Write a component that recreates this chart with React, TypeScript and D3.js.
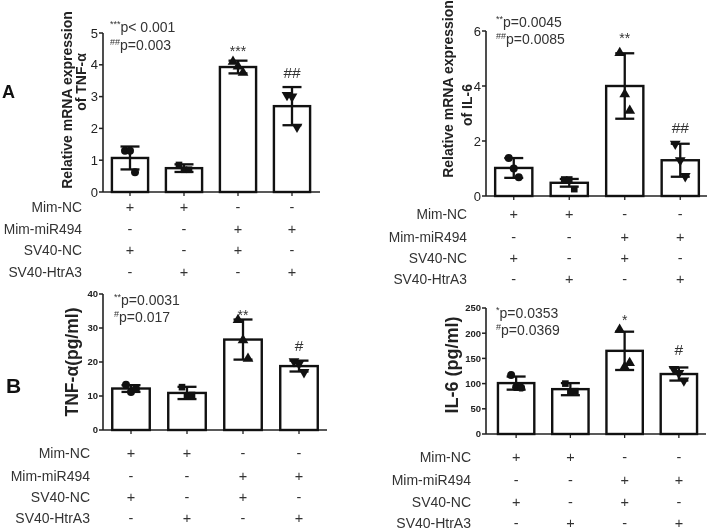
import React from "react";
import * as d3 from "d3";

// ---- data ----
const rowLabels = ["Mim-NC", "Mim-miR494", "SV40-NC", "SV40-HtrA3"];
const rowSigns = [
  ["+", "+", "-", "-"],
  ["-", "-", "+", "+"],
  ["+", "-", "+", "-"],
  ["-", "+", "-", "+"],
];
const groups = ["g1", "g2", "g3", "g4"];

const tnfMrnaMean = [1.07, 0.75, 3.93, 2.7];
const tnfMrnaSd = [0.36, 0.12, 0.2, 0.6];
const tnfMrnaPts = [[1.3, 1.3, 0.62], [0.85, 0.7, 0.7], [4.1, 3.95, 3.75], [3.05, 3.0, 2.05]];
const tnfMrnaTicks = [0, 1, 2, 3, 4, 5];
const tnfMrnaSig = ["", "", "***", "##"];
const tnfMrnaP = [["***", "p< 0.001"], ["##", "p=0.003"]];

const il6MrnaMean = [1.02, 0.48, 4.0, 1.3];
const il6MrnaSd = [0.36, 0.14, 1.19, 0.6];
const il6MrnaPts = [[1.38, 1.0, 0.68], [0.6, 0.6, 0.25], [5.2, 3.7, 3.1], [1.9, 1.3, 0.72]];
const il6MrnaTicks = [0, 2, 4, 6];
const il6MrnaSig = ["", "", "**", "##"];
const il6MrnaP = [["**", "p=0.0045"], ["##", "p=0.0085"]];

const tnfProtMean = [12.2, 10.9, 26.6, 18.8];
const tnfProtSd = [1.0, 1.8, 5.9, 1.6];
const tnfProtPts = [[13.3, 11.2, 12.1], [12.6, 9.8, 10.3], [32.4, 26.4, 21.0], [20.2, 19.5, 17.0]];
const tnfProtTicks = [0, 10, 20, 30, 40];
const tnfProtSig = ["", "", "**", "#"];
const tnfProtP = [["**", "p=0.0031"], ["#", "p=0.017"]];

const il6ProtMean = [101, 89, 165, 119];
const il6ProtSd = [13, 12, 38, 13];
const il6ProtPts = [[117, 93, 92], [100, 82, 85], [207, 133, 141], [129, 121, 106]];
const il6ProtTicks = [0, 50, 100, 150, 200, 250];
const il6ProtSig = ["", "", "*", "#"];
const il6ProtP = [["*", "p=0.0353"], ["#", "p=0.0369"]];

const FONT = "'Liberation Sans', Arial, sans-serif";
const symbols = [d3.symbolCircle, d3.symbolSquare, d3.symbolTriangle, d3.symbolTriangle];

type PanelProps = {
  xRange: [number, number];
  axisX: number;
  axisEnd: number;
  yRange: [number, number];
  max: number;
  ticks: number[];
  tickBold: boolean;
  tickSize: number;
  mean: number[];
  sd: number[];
  pts: number[][];
  sig: string[];
  sigOff: number[];
  pText: string[][];
  pX: number;
  pY: number[];
  yLabel: { text: string; x: number; y: number; size: number }[];
  table: { labelX: number; rowY: number[]; size: number };
};

function Panel(p: PanelProps) {
  const x = d3.scaleBand<string>().domain(groups).range(p.xRange).paddingInner(0.33).paddingOuter(0.165);
  const y = d3.scaleLinear().domain([0, p.max]).range(p.yRange);
  const bw = x.bandwidth();
  const y0 = y(0);
  return (
    <g fontFamily={FONT}>
      <line x1={p.axisX} x2={p.axisX} y1={y0} y2={y(p.max)} stroke="#222" strokeWidth={1.6} />
      <line x1={p.axisX} x2={p.axisEnd} y1={y0} y2={y0} stroke="#222" strokeWidth={1.6} />
      {p.ticks.map((t) => (
        <g key={t}>
          <line x1={p.axisX - 4} x2={p.axisX} y1={y(t)} y2={y(t)} stroke="#222" strokeWidth={1.5} />
          <text x={p.axisX - 5} y={y(t)} dy="0.35em" textAnchor="end" fontSize={p.tickSize}
            fontWeight={p.tickBold ? "bold" : "normal"} fill="#222">{t}</text>
        </g>
      ))}
      {groups.map((g) => (
        <line key={g} x1={x(g)! + bw / 2} x2={x(g)! + bw / 2} y1={y0} y2={y0 + 4} stroke="#222" strokeWidth={1.3} />
      ))}
      {groups.map((g, i) => {
        const cx = x(g)! + bw / 2;
        const top = y(p.mean[i]);
        const eT = y(p.mean[i] + p.sd[i]);
        const eB = y(p.mean[i] - p.sd[i]);
        return (
          <g key={g}>
            <rect x={x(g)!} y={top} width={bw} height={y0 - top} fill="white" stroke="#111" strokeWidth={2.4} />
            <line x1={cx} x2={cx} y1={eT} y2={eB} stroke="#111" strokeWidth={2.3} />
            <line x1={cx - 9.5} x2={cx + 9.5} y1={eT} y2={eT} stroke="#111" strokeWidth={2.3} />
            <line x1={cx - 9.5} x2={cx + 9.5} y1={eB} y2={eB} stroke="#111" strokeWidth={2.3} />
            {p.pts[i].map((v, j) => {
              const dx = (j - 1) * 5;
              const path = d3.symbol().type(symbols[i]).size(i === 1 ? 44 : 50)()!;
              return (
                <path key={j} d={path} transform={`translate(${cx + dx},${y(v)})${i === 3 ? " rotate(180)" : ""}`} fill="#111" />
              );
            })}
            {p.sig[i] && (
              <text x={cx} y={eT - p.sigOff[i]} textAnchor="middle" fontSize={p.sig[i].startsWith("*") ? 14 : 15.5} fill="#333">
                {p.sig[i]}
              </text>
            )}
          </g>
        );
      })}
      {p.pText.map((t, k) => (
        <text key={k} x={p.pX} y={p.pY[k]} fontSize={14} fill="#333">
          <tspan fontSize={9} dy={-5}>{t[0]}</tspan>
          <tspan dy={5}>{t[1]}</tspan>
        </text>
      ))}
      {p.yLabel.map((l, k) => (
        <text key={k} transform={`translate(${l.x},${l.y}) rotate(-90)`} textAnchor="middle" dominantBaseline="central"
          fontSize={l.size} fontWeight="bold" fill="#222">{l.text}</text>
      ))}
      {rowLabels.map((r, ri) => (
        <g key={r}>
          <text x={p.table.labelX} y={p.table.rowY[ri]} dy="0.35em" textAnchor="end" fontSize={p.table.size} fill="#333">{r}</text>
          {groups.map((g, gi) => (
            <text key={g} x={x(g)! + bw / 2} y={p.table.rowY[ri]} dy="0.35em" textAnchor="middle" fontSize={14.5} fill="#333">
              {rowSigns[ri][gi]}
            </text>
          ))}
        </g>
      ))}
    </g>
  );
}

export default function App() {
  return (
    <svg width={708} height={530} style={{ position: "absolute", left: 0, top: 0, background: "white", willChange: "transform" }}>
      <rect width={708} height={530} fill="white" />
      <text x={2} y={98} fontFamily={FONT} fontSize={18} fontWeight="bold" fill="#111">A</text>
      <text x={6} y={393} fontFamily={FONT} fontSize={21} fontWeight="bold" fill="#111">B</text>
      <Panel
        xRange={[103, 319]} axisX={103} axisEnd={320} yRange={[192, 33]} max={5}
        ticks={tnfMrnaTicks} tickBold={false} tickSize={13}
        mean={tnfMrnaMean} sd={tnfMrnaSd} pts={tnfMrnaPts} sig={tnfMrnaSig} sigOff={[0, 0, 5, 9]}
        pText={tnfMrnaP} pX={110} pY={[32, 50]}
        yLabel={[{ text: "Relative mRNA expression", x: 67, y: 100, size: 14 }, { text: "of TNF-α", x: 81, y: 82, size: 14 }]}
        table={{ labelX: 82, rowY: [207, 229, 250, 272], size: 13.8 }}
      />
      <Panel
        xRange={[486, 708]} axisX={486} axisEnd={707} yRange={[196, 31]} max={6}
        ticks={il6MrnaTicks} tickBold={false} tickSize={13}
        mean={il6MrnaMean} sd={il6MrnaSd} pts={il6MrnaPts} sig={il6MrnaSig} sigOff={[0, 0, 10, 11]}
        pText={il6MrnaP} pX={496} pY={[27, 44]}
        yLabel={[{ text: "Relative mRNA expression", x: 448, y: 89, size: 14 }, { text: "of IL-6", x: 467, y: 105, size: 14 }]}
        table={{ labelX: 467, rowY: [214, 237, 258, 279], size: 13.8 }}
      />
      <Panel
        xRange={[103, 327]} axisX={103} axisEnd={327} yRange={[430, 294]} max={40}
        ticks={tnfProtTicks} tickBold={true} tickSize={9.5}
        mean={tnfProtMean} sd={tnfProtSd} pts={tnfProtPts} sig={tnfProtSig} sigOff={[0, 0, 0, 10]}
        pText={tnfProtP} pX={114} pY={[305, 322]}
        yLabel={[{ text: "TNF-α(pg/ml)", x: 72, y: 362, size: 17.5 }]}
        table={{ labelX: 90, rowY: [453, 476, 497, 518], size: 14 }}
      />
      <Panel
        xRange={[489, 706]} axisX={486} axisEnd={706} yRange={[434, 308]} max={250}
        ticks={il6ProtTicks} tickBold={true} tickSize={9.5}
        mean={il6ProtMean} sd={il6ProtSd} pts={il6ProtPts} sig={il6ProtSig} sigOff={[0, 0, 7, 12]}
        pText={il6ProtP} pX={496} pY={[318, 335]}
        yLabel={[{ text: "IL-6 (pg/ml)", x: 452, y: 365, size: 18 }]}
        table={{ labelX: 471, rowY: [457, 480, 502, 523], size: 14 }}
      />
    </svg>
  );
}
